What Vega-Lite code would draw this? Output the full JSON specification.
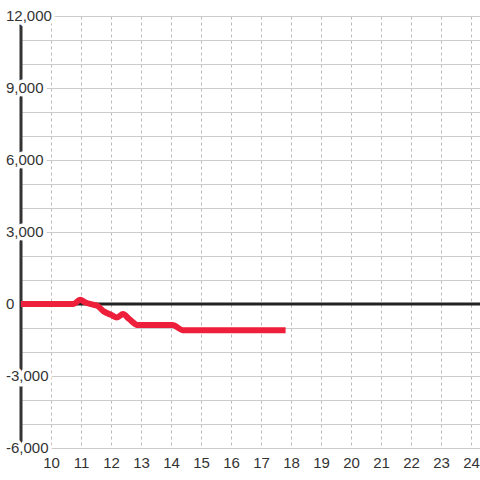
{
  "$schema": "https://vega.github.io/schema/vega-lite/v6.json",
  "autosize": "none",
  "width": 459,
  "height": 432,
  "padding": {"left": 21, "top": 16, "right": 0, "bottom": 32},
  "background": "white",
  "config": {"view": {"stroke": null}, "font": "Liberation Sans"},
  "datasets": {
    "line": [
      {"x": 9, "y": 0}, {"x": 10.75, "y": 0}, {"x": 10.97, "y": 180}, {"x": 11.15, "y": 60},
      {"x": 11.4, "y": -30}, {"x": 11.55, "y": -80}, {"x": 11.75, "y": -300}, {"x": 12.0, "y": -450},
      {"x": 12.2, "y": -560}, {"x": 12.4, "y": -420}, {"x": 12.6, "y": -620}, {"x": 12.9, "y": -880},
      {"x": 14.05, "y": -880}, {"x": 14.4, "y": -1090}, {"x": 17.82, "y": -1090}
    ],
    "labels": [
      {"x": 9, "y": -6000, "label": "-6,000"}, {"x": 9, "y": -3000, "label": "-3,000"}, {"x": 9, "y": 0, "label": "0"},
      {"x": 9, "y": 3000, "label": "3,000"}, {"x": 9, "y": 6000, "label": "6,000"}, {"x": 9, "y": 9000, "label": "9,000"},
      {"x": 9, "y": 12000, "label": "12,000"}
    ],
    "axisline": [{"x": 9, "y": -6000, "y2": 12000}],
    "zeroline": [{"x": 9, "x2": 24.3, "y": 0}]
  },
  "encoding": {
    "x": {"field": "x", "type": "quantitative",
      "scale": {"domain": [9, 24.3], "nice": false, "zero": false},
      "axis": {"values": [10,11,12,13,14,15,16,17,18,19,20,21,22,23,24], "title": null, "domain": false, "ticks": false,
        "labelFontSize": 15, "labelColor": "#333", "labelPadding": 7, "grid": true, "gridDash": [3, 3], "gridColor": "#bbb", "labelFlush": false, "labelOverlap": false}},
    "y": {"field": "y", "type": "quantitative",
      "scale": {"domain": [-6000, 12000], "nice": false, "zero": false},
      "axis": {"values": [-6000,-5000,-4000,-3000,-2000,-1000,0,1000,2000,3000,4000,5000,6000,7000,8000,9000,10000,11000,12000],
        "title": null, "domain": false, "ticks": false, "labels": false, "grid": true, "gridColor": "#ccc"}}
  },
  "layer": [
    {
      "data": {"name": "zeroline"},
      "mark": {"type": "rule", "color": "#222", "strokeWidth": 3},
      "encoding": {"x2": {"field": "x2"}}
    },
    {
      "data": {"name": "axisline"},
      "mark": {"type": "rule", "color": "#333", "strokeWidth": 3},
      "encoding": {"y2": {"field": "y2"}}
    },
    {
      "data": {"name": "line"},
      "mark": {"type": "line", "color": "#ee1f3b", "strokeWidth": 6, "strokeJoin": "round", "strokeCap": "butt", "interpolate": "monotone", "clip": false}
    },
    {
      "data": {"name": "labels"},
      "mark": {"type": "text", "align": "left", "baseline": "middle", "dx": -15, "fontSize": 15, "stroke": "white", "strokeWidth": 7, "strokeJoin": "round", "fill": "white"},
      "encoding": {"text": {"field": "label"}}
    },
    {
      "data": {"name": "labels"},
      "mark": {"type": "text", "align": "left", "baseline": "middle", "dx": -15, "fontSize": 15, "fill": "#333"},
      "encoding": {"text": {"field": "label"}}
    }
  ]
}
